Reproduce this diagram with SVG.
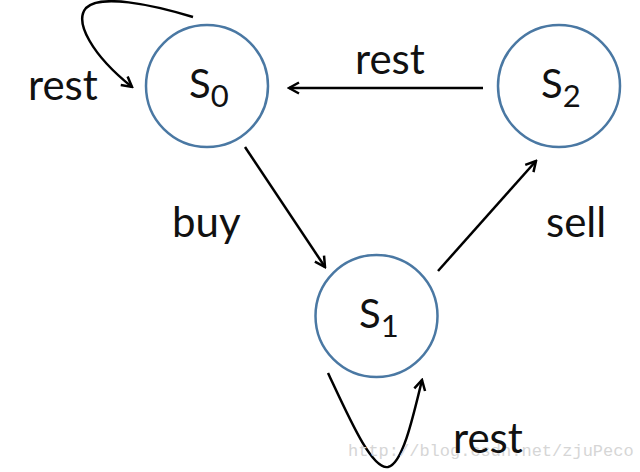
<svg xmlns="http://www.w3.org/2000/svg" width="640" height="472" viewBox="0 0 640 472">
<defs>
<style>
.state{fill:#ffffff;stroke:#4a78a3;stroke-width:2.5}
.name{font-family:Lato,"Liberation Sans",sans-serif;font-size:40px;fill:#111}
.sub{font-size:31px}
.lbl{font-family:Lato,"Liberation Sans",sans-serif;font-size:42px;fill:#111}
.edge{fill:none;stroke:#000;stroke-width:2.5;marker-end:url(#arr)}
.wm{font-family:"Liberation Mono",monospace;font-size:17px;fill:#d6d6d6}
</style>
<marker id="arr" viewBox="0 0 14 14" refX="12" refY="7" markerWidth="14" markerHeight="14" markerUnits="userSpaceOnUse" orient="auto">
<path d="M2,1.5 L12,7 L2,12.5" fill="none" stroke="#000" stroke-width="2.5"/>
</marker>
</defs>
<rect width="640" height="472" fill="#ffffff"/>
<g id="connectors">
<path class="edge" d="M483,88 L289,88"/>
<path class="edge" d="M245,147 L325,267"/>
<path class="edge" d="M438,271 L536,161"/>
<path class="edge" d="M193,17 C150,4 100,-6 86,8 C74,22 92,55 132,87"/>
<path class="edge" d="M328,373 C350,420 372,470 388,467 C402,464 412,422 422,380"/>
</g>
<g id="S0">
<circle class="state" cx="207" cy="86" r="61"/>
<text class="name" x="189" y="98">S<tspan class="sub" y="107">0</tspan></text>
</g>
<g id="S1">
<circle class="state" cx="376.5" cy="316" r="61"/>
<text class="name" x="359" y="328">S<tspan class="sub" y="337">1</tspan></text>
</g>
<g id="S2">
<circle class="state" cx="559" cy="86" r="61"/>
<text class="name" x="541" y="98">S<tspan class="sub" y="107">2</tspan></text>
</g>
<g id="labels">
<text class="lbl" x="28" y="100">rest</text>
<text class="lbl" x="355" y="74">rest</text>
<text class="lbl" x="172" y="237">buy</text>
<text class="lbl" x="546" y="237">sell</text>
<text class="wm" x="348" y="456">http://blog.csdn.net/zjuPeco</text>
<text class="lbl" x="453" y="453">rest</text>
</g>
</svg>
